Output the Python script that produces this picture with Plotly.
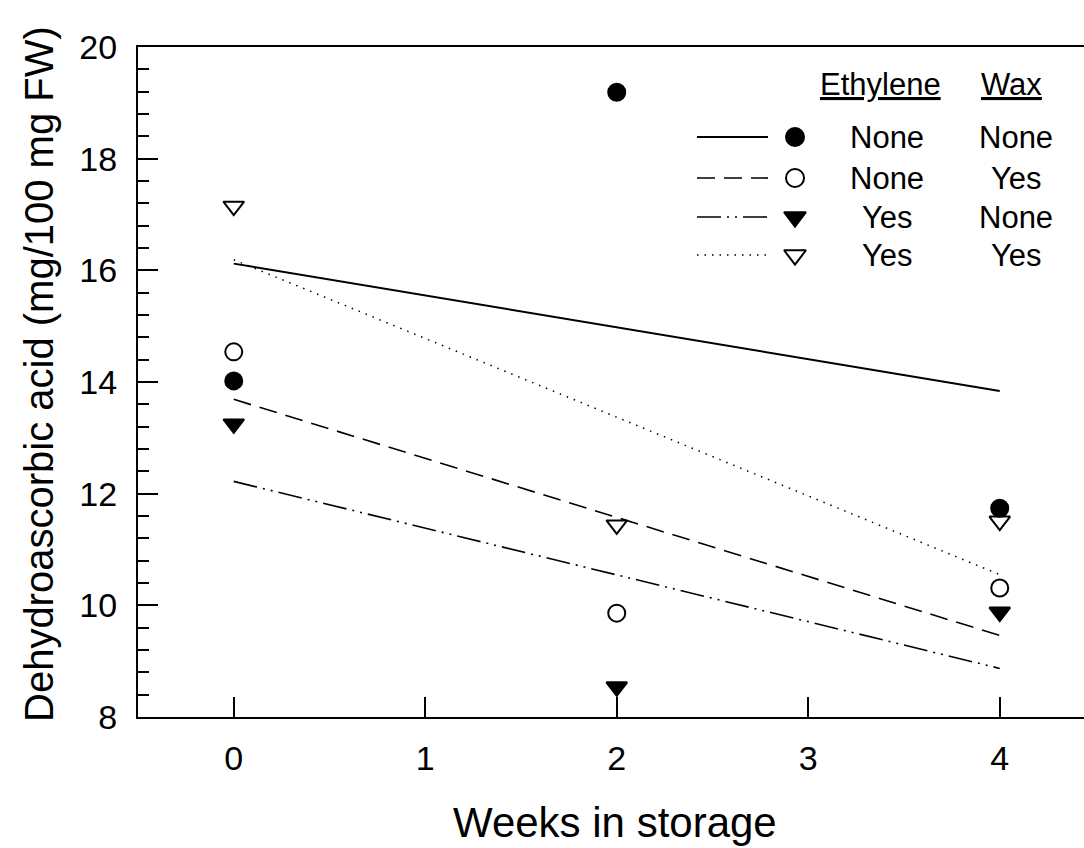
import plotly.graph_objects as go

# ---- data ----
weeks = [0, 2, 4]
none_none = [14.02, 19.19, 11.74]     # Ethylene None, Wax None  (filled circle)
none_yes = [14.54, 9.86, 10.31]       # Ethylene None, Wax Yes   (open circle)
yes_none = [13.25, 8.54, 9.88]        # Ethylene Yes, Wax None   (filled triangle)
yes_yes = [17.15, 11.44, 11.51]       # Ethylene Yes, Wax Yes    (open triangle)

fit_weeks = [0, 4]
fit_none_none = [16.12, 13.84]
fit_none_yes = [13.69, 9.46]
fit_yes_none = [12.22, 8.87]
fit_yes_yes = [16.19, 10.55]

x_ticks = [0, 1, 2, 3, 4]
y_ticks = [8, 10, 12, 14, 16, 18, 20]

ethylene_labels = ["None", "None", "Yes", "Yes"]
wax_labels = ["None", "Yes", "None", "Yes"]

W, H = 1084, 848
L, R, T, B = 138, 0, 47, 131
FONT = "Liberation Sans, Arial, sans-serif"

series = [
    dict(y=none_none, fit=fit_none_none, symbol="circle", size=17, dash="solid", lw=2),
    dict(y=none_yes, fit=fit_none_yes, symbol="circle-open", size=17, dash="18px,9px", lw=1.6),
    dict(y=yes_none, fit=fit_yes_none, symbol="triangle-down", size=18, dash="24px,6px,2px,6px,2px,6px", lw=1.6),
    dict(y=yes_yes, fit=fit_yes_yes, symbol="triangle-down-open", size=18, dash="1.5px,6px", lw=1.5),
]

fig = go.Figure()

for s in series:
    fig.add_trace(go.Scatter(x=fit_weeks, y=s["fit"], mode="lines",
                             line=dict(color="black", width=s["lw"], dash=s["dash"]),
                             showlegend=False, hoverinfo="skip"))
for s in series:
    fig.add_trace(go.Scatter(x=weeks, y=s["y"], mode="markers",
                             marker=dict(symbol=s["symbol"], size=s["size"], color="black",
                                         line=dict(color="black", width=2)),
                             showlegend=False))

# ---- custom legend on a pixel-coordinate overlay axis ----
row_y = [137, 178, 217, 255]
for i, s in enumerate(series):
    fig.add_trace(go.Scatter(x=[697, 768], y=[row_y[i], row_y[i]], mode="lines",
                             line=dict(color="black", width=s["lw"], dash=s["dash"]),
                             xaxis="x2", yaxis="y2", showlegend=False, hoverinfo="skip"))
    fig.add_trace(go.Scatter(x=[795], y=[row_y[i]], mode="markers",
                             marker=dict(symbol=s["symbol"], size=s["size"] + 1, color="black",
                                         line=dict(color="black", width=2)),
                             xaxis="x2", yaxis="y2", showlegend=False, hoverinfo="skip"))

annotations = []
def px_ann(text, x, y, size=31, **kw):
    annotations.append(dict(text=text, x=x, y=y, xref="x2", yref="y2", showarrow=False,
                            xanchor="center", yanchor="middle",
                            font=dict(family=FONT, size=size, color="black"), **kw))

def paper_ann(text, px, py, size, **kw):
    annotations.append(dict(text=text, x=(px - L) / (W - L - R), y=(H - B - py) / (H - B - T),
                            xref="paper", yref="paper", showarrow=False,
                            xanchor="center", yanchor="middle",
                            font=dict(family=FONT, size=size, color="black"), **kw))

px_ann("<u>Ethylene</u>", 880, 84)
px_ann("<u>Wax</u>", 1011, 84)
for i in range(4):
    px_ann(ethylene_labels[i], 887, row_y[i])
    px_ann(wax_labels[i], 1016, row_y[i])

# axis titles
paper_ann("Weeks in storage", 615, 822, 42)
paper_ann("Dehydroascorbic acid (mg/100 mg FW)", 39, 374, 40, textangle=-90)

fig.update_layout(
    width=W, height=H,
    margin=dict(l=L, r=R, t=T, b=B),
    paper_bgcolor="white", plot_bgcolor="white",
    font=dict(family=FONT, color="black"),
    showlegend=False,
    xaxis=dict(range=[-0.5, 4.44], tickvals=x_ticks, ticks="inside", ticklen=20, tickwidth=2,
               tickcolor="black", showline=True, linecolor="black", linewidth=2, mirror=True,
               showgrid=False, zeroline=False, tickfont=dict(family=FONT, size=34),
               ticklabelstandoff=10),
    yaxis=dict(range=[8, 20], tickvals=y_ticks, ticks="inside", ticklen=20, tickwidth=2,
               tickcolor="black", showline=True, linecolor="black", linewidth=2,
               showgrid=False, zeroline=False, tickfont=dict(family=FONT, size=34),
               ticklabelstandoff=12,
               minor=dict(dtick=0.4, tick0=8, ticks="inside", ticklen=11, tickwidth=2,
                          tickcolor="black", showgrid=False)),
    xaxis2=dict(overlaying="x", range=[L, W - R], visible=False, fixedrange=True),
    yaxis2=dict(overlaying="y", range=[H - B, T], visible=False, fixedrange=True),
    annotations=annotations,
)

fig.write_html("out.html")
